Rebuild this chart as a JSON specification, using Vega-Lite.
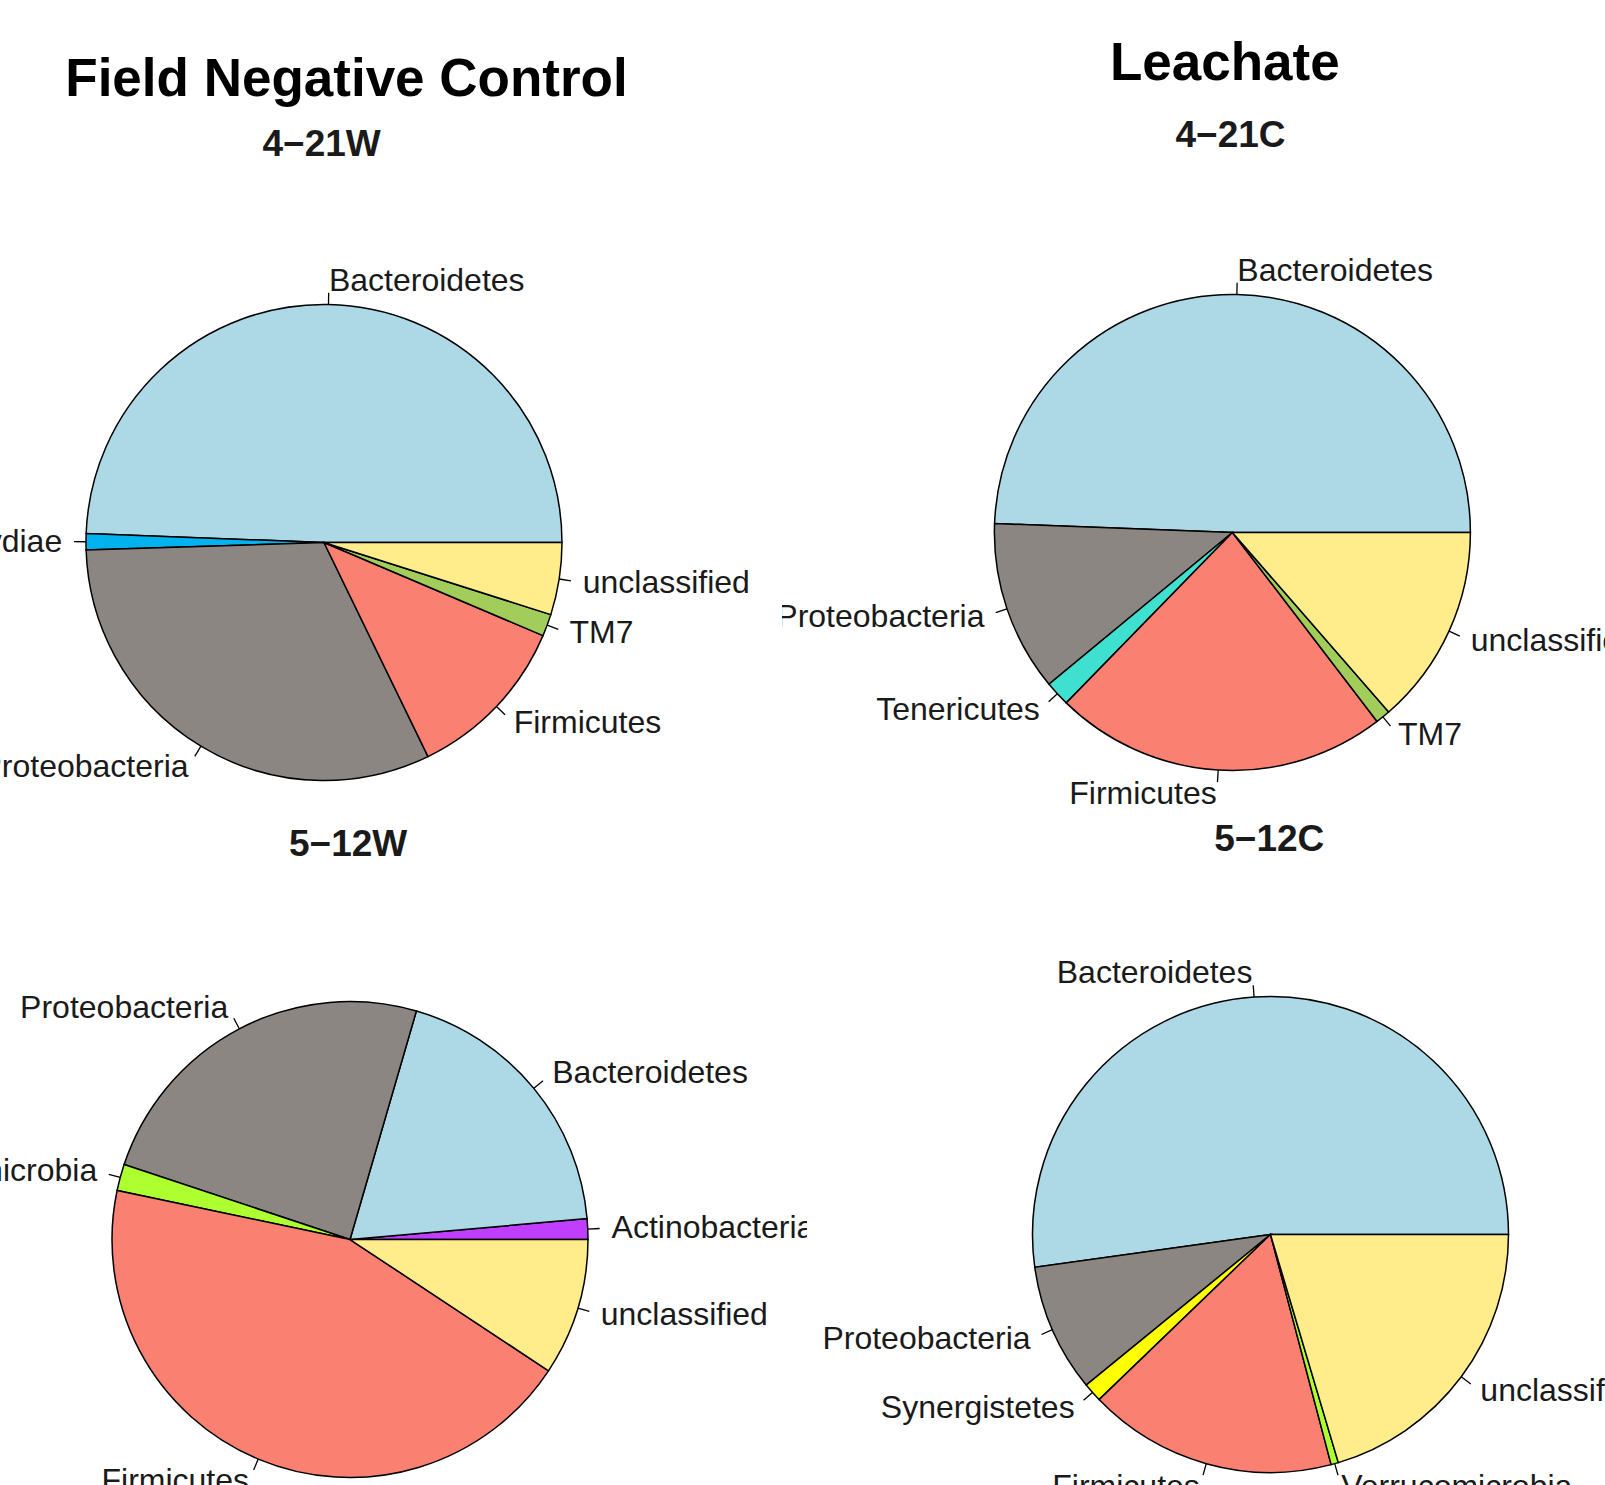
{
  "$schema": "https://vega.github.io/schema/vega-lite/v6.json",
  "padding": 0,
  "spacing": 0,
  "background": "white",
  "config": {
    "view": {"stroke": null},
    "text": {"font": "Liberation Sans"}
  },
  "datasets": {
    "abundance": [
      {"sample": "4−21W", "phylum": "Bacteroidetes", "share": 0.494},
      {"sample": "4−21W", "phylum": "Chlamydiae", "share": 0.011},
      {"sample": "4−21W", "phylum": "Proteobacteria", "share": 0.317},
      {"sample": "4−21W", "phylum": "Firmicutes", "share": 0.114},
      {"sample": "4−21W", "phylum": "TM7", "share": 0.015},
      {"sample": "4−21W", "phylum": "unclassified", "share": 0.049},
      {"sample": "4−21C", "phylum": "Bacteroidetes", "share": 0.494},
      {"sample": "4−21C", "phylum": "Proteobacteria", "share": 0.116},
      {"sample": "4−21C", "phylum": "Tenericutes", "share": 0.017},
      {"sample": "4−21C", "phylum": "Firmicutes", "share": 0.227},
      {"sample": "4−21C", "phylum": "TM7", "share": 0.010},
      {"sample": "4−21C", "phylum": "unclassified", "share": 0.136},
      {"sample": "5−12W", "phylum": "Actinobacteria", "share": 0.014},
      {"sample": "5−12W", "phylum": "Bacteroidetes", "share": 0.191},
      {"sample": "5−12W", "phylum": "Proteobacteria", "share": 0.244},
      {"sample": "5−12W", "phylum": "Verrucomicrobia", "share": 0.018},
      {"sample": "5−12W", "phylum": "Firmicutes", "share": 0.440},
      {"sample": "5−12W", "phylum": "unclassified", "share": 0.093},
      {"sample": "5−12C", "phylum": "Bacteroidetes", "share": 0.522},
      {"sample": "5−12C", "phylum": "Proteobacteria", "share": 0.087},
      {"sample": "5−12C", "phylum": "Synergistetes", "share": 0.013},
      {"sample": "5−12C", "phylum": "Firmicutes", "share": 0.169},
      {"sample": "5−12C", "phylum": "Verrucomicrobia", "share": 0.005},
      {"sample": "5−12C", "phylum": "unclassified", "share": 0.204}
    ]
  },
  "vconcat": [
    {
      "spacing": 0,
      "hconcat": [
        {
          "width": 782, "height": 815,
          "layer": [
            {
              "data": {"name": "abundance"},
              "transform": [
                {"filter": "datum.sample === '4−21W'"},
                {"window": [{"op": "sum", "field": "share", "as": "end"}], "frame": [null, 0]},
                {"calculate": "datum.end - datum.share", "as": "start"},
                {"calculate": "2 * PI * (datum.start + datum.share / 2)", "as": "mid"},
                {"calculate": "cos(datum.mid)", "as": "ux"},
                {"calculate": "sin(datum.mid)", "as": "uy"},
                {"calculate": "1.05 * datum.ux", "as": "tx"},
                {"calculate": "1.05 * datum.uy", "as": "ty"},
                {"calculate": "1.1 * datum.ux", "as": "lx"},
                {"calculate": "1.1 * datum.uy", "as": "ly"}
              ],
              "layer": [
                {
                  "mark": {"type": "arc", "radius": 238, "stroke": "black", "strokeWidth": 1.5, "clip": true},
                  "encoding": {
                    "theta": {"field": "start", "type": "quantitative", "stack": null, "scale": {"domain": [0, 1], "range": [1.5708, -4.7124]}},
                    "theta2": {"field": "end"},
                    "x": {"datum": 0, "type": "quantitative", "scale": {"domain": [-1.3613, 1.9244], "nice": false, "zero": false}, "axis": null},
                    "y": {"datum": 0, "type": "quantitative", "scale": {"domain": [-1.1450, 2.2794], "nice": false, "zero": false}, "axis": null},
                    "color": {"field": "phylum", "type": "nominal", "legend": null, "scale": {"domain": ["Bacteroidetes", "Proteobacteria", "Firmicutes", "unclassified", "TM7", "Chlamydiae", "Tenericutes", "Actinobacteria", "Verrucomicrobia", "Synergistetes"], "range": ["#ADD8E6", "#8B8682", "#FA8072", "#FFEC8B", "#A2CD5A", "#00B2EE", "#40E0D0", "#BF3EFF", "#ADFF2F", "#FFFF00"]}}
                  }
                },
                {
                  "mark": {"type": "rule", "stroke": "black", "strokeWidth": 1.3, "clip": true},
                  "encoding": {
                    "x": {"field": "ux", "type": "quantitative", "scale": {"domain": [-1.3613, 1.9244], "nice": false, "zero": false}, "axis": null},
                    "y": {"field": "uy", "type": "quantitative", "scale": {"domain": [-1.1450, 2.2794], "nice": false, "zero": false}, "axis": null},
                    "x2": {"field": "tx"},
                    "y2": {"field": "ty"}
                  }
                },
                {
                  "transform": [{"filter": "datum.ux >= 0"}],
                  "mark": {"type": "text", "align": "left", "baseline": "middle", "fontSize": 32, "color": "#1a1a1a", "clip": true},
                  "encoding": {
                    "x": {"field": "lx", "type": "quantitative", "scale": {"domain": [-1.3613, 1.9244], "nice": false, "zero": false}, "axis": null},
                    "y": {"field": "ly", "type": "quantitative", "scale": {"domain": [-1.1450, 2.2794], "nice": false, "zero": false}, "axis": null},
                    "text": {"field": "phylum"}
                  }
                },
                {
                  "transform": [{"filter": "datum.ux < 0"}],
                  "mark": {"type": "text", "align": "right", "baseline": "middle", "fontSize": 32, "color": "#1a1a1a", "clip": true},
                  "encoding": {
                    "x": {"field": "lx", "type": "quantitative", "scale": {"domain": [-1.3613, 1.9244], "nice": false, "zero": false}, "axis": null},
                    "y": {"field": "ly", "type": "quantitative", "scale": {"domain": [-1.1450, 2.2794], "nice": false, "zero": false}, "axis": null},
                    "text": {"field": "phylum"}
                  }
                }
              ]
            },
            {
              "data": {"values": [{"heading": "Field Negative Control"}]},
              "mark": {"type": "text", "align": "center", "baseline": "alphabetic", "fontSize": 53, "fontWeight": "bold", "color": "black"},
              "encoding": {
                "x": {"datum": 0.0945, "type": "quantitative", "scale": {"domain": [-1.3613, 1.9244], "nice": false, "zero": false}, "axis": null},
                "y": {"datum": 1.876, "type": "quantitative", "scale": {"domain": [-1.1450, 2.2794], "nice": false, "zero": false}, "axis": null},
                "text": {"field": "heading"}
              }
            },
            {
              "data": {"values": [{"heading": "4−21W"}]},
              "mark": {"type": "text", "align": "center", "baseline": "alphabetic", "fontSize": 37, "fontWeight": "bold", "color": "#1a1a1a"},
              "encoding": {
                "x": {"datum": -0.01, "type": "quantitative", "scale": {"domain": [-1.3613, 1.9244], "nice": false, "zero": false}, "axis": null},
                "y": {"datum": 1.6256, "type": "quantitative", "scale": {"domain": [-1.1450, 2.2794], "nice": false, "zero": false}, "axis": null},
                "text": {"field": "heading"}
              }
            }
          ]
        },
        {
          "width": 823, "height": 815,
          "layer": [
            {
              "data": {"name": "abundance"},
              "transform": [
                {"filter": "datum.sample === '4−21C'"},
                {"window": [{"op": "sum", "field": "share", "as": "end"}], "frame": [null, 0]},
                {"calculate": "datum.end - datum.share", "as": "start"},
                {"calculate": "2 * PI * (datum.start + datum.share / 2)", "as": "mid"},
                {"calculate": "cos(datum.mid)", "as": "ux"},
                {"calculate": "sin(datum.mid)", "as": "uy"},
                {"calculate": "1.05 * datum.ux", "as": "tx"},
                {"calculate": "1.05 * datum.uy", "as": "ty"},
                {"calculate": "1.1 * datum.ux", "as": "lx"},
                {"calculate": "1.1 * datum.uy", "as": "ly"}
              ],
              "layer": [
                {
                  "mark": {"type": "arc", "radius": 238, "stroke": "black", "strokeWidth": 1.5, "clip": true},
                  "encoding": {
                    "theta": {"field": "start", "type": "quantitative", "stack": null, "scale": {"domain": [0, 1], "range": [1.5708, -4.7124]}},
                    "theta2": {"field": "end"},
                    "x": {"datum": 0, "type": "quantitative", "scale": {"domain": [-1.8924, 1.5655], "nice": false, "zero": false}, "axis": null},
                    "y": {"datum": 0, "type": "quantitative", "scale": {"domain": [-1.1870, 2.2374], "nice": false, "zero": false}, "axis": null},
                    "color": {"field": "phylum", "type": "nominal", "legend": null}
                  }
                },
                {
                  "mark": {"type": "rule", "stroke": "black", "strokeWidth": 1.3, "clip": true},
                  "encoding": {
                    "x": {"field": "ux", "type": "quantitative", "scale": {"domain": [-1.8924, 1.5655], "nice": false, "zero": false}, "axis": null},
                    "y": {"field": "uy", "type": "quantitative", "scale": {"domain": [-1.1870, 2.2374], "nice": false, "zero": false}, "axis": null},
                    "x2": {"field": "tx"},
                    "y2": {"field": "ty"}
                  }
                },
                {
                  "transform": [{"filter": "datum.ux >= 0"}],
                  "mark": {"type": "text", "align": "left", "baseline": "middle", "fontSize": 32, "color": "#1a1a1a", "clip": true},
                  "encoding": {
                    "x": {"field": "lx", "type": "quantitative", "scale": {"domain": [-1.8924, 1.5655], "nice": false, "zero": false}, "axis": null},
                    "y": {"field": "ly", "type": "quantitative", "scale": {"domain": [-1.1870, 2.2374], "nice": false, "zero": false}, "axis": null},
                    "text": {"field": "phylum"}
                  }
                },
                {
                  "transform": [{"filter": "datum.ux < 0"}],
                  "mark": {"type": "text", "align": "right", "baseline": "middle", "fontSize": 32, "color": "#1a1a1a", "clip": true},
                  "encoding": {
                    "x": {"field": "lx", "type": "quantitative", "scale": {"domain": [-1.8924, 1.5655], "nice": false, "zero": false}, "axis": null},
                    "y": {"field": "ly", "type": "quantitative", "scale": {"domain": [-1.1870, 2.2374], "nice": false, "zero": false}, "axis": null},
                    "text": {"field": "phylum"}
                  }
                }
              ]
            },
            {
              "data": {"values": [{"heading": "Leachate"}]},
              "mark": {"type": "text", "align": "center", "baseline": "alphabetic", "fontSize": 53, "fontWeight": "bold", "color": "black"},
              "encoding": {
                "x": {"datum": -0.032, "type": "quantitative", "scale": {"domain": [-1.8924, 1.5655], "nice": false, "zero": false}, "axis": null},
                "y": {"datum": 1.903, "type": "quantitative", "scale": {"domain": [-1.1870, 2.2374], "nice": false, "zero": false}, "axis": null},
                "text": {"field": "heading"}
              }
            },
            {
              "data": {"values": [{"heading": "4−21C"}]},
              "mark": {"type": "text", "align": "center", "baseline": "alphabetic", "fontSize": 37, "fontWeight": "bold", "color": "#1a1a1a"},
              "encoding": {
                "x": {"datum": -0.008, "type": "quantitative", "scale": {"domain": [-1.8924, 1.5655], "nice": false, "zero": false}, "axis": null},
                "y": {"datum": 1.6185, "type": "quantitative", "scale": {"domain": [-1.1870, 2.2374], "nice": false, "zero": false}, "axis": null},
                "text": {"field": "heading"}
              }
            }
          ]
        }
      ]
    },
    {
      "spacing": 0,
      "hconcat": [
        {
          "width": 807, "height": 670,
          "layer": [
            {
              "data": {"name": "abundance"},
              "transform": [
                {"filter": "datum.sample === '5−12W'"},
                {"window": [{"op": "sum", "field": "share", "as": "end"}], "frame": [null, 0]},
                {"calculate": "datum.end - datum.share", "as": "start"},
                {"calculate": "2 * PI * (datum.start + datum.share / 2)", "as": "mid"},
                {"calculate": "cos(datum.mid)", "as": "ux"},
                {"calculate": "sin(datum.mid)", "as": "uy"},
                {"calculate": "1.05 * datum.ux", "as": "tx"},
                {"calculate": "1.05 * datum.uy", "as": "ty"},
                {"calculate": "1.1 * datum.ux", "as": "lx"},
                {"calculate": "1.1 * datum.uy", "as": "ly"}
              ],
              "layer": [
                {
                  "mark": {"type": "arc", "radius": 238, "stroke": "black", "strokeWidth": 1.5, "clip": true},
                  "encoding": {
                    "theta": {"field": "start", "type": "quantitative", "stack": null, "scale": {"domain": [0, 1], "range": [1.5708, -4.7124]}},
                    "theta2": {"field": "end"},
                    "x": {"datum": 0, "type": "quantitative", "scale": {"domain": [-1.4706, 1.9202], "nice": false, "zero": false}, "axis": null},
                    "y": {"datum": 0, "type": "quantitative", "scale": {"domain": [-1.0315, 1.7836], "nice": false, "zero": false}, "axis": null},
                    "color": {"field": "phylum", "type": "nominal", "legend": null}
                  }
                },
                {
                  "mark": {"type": "rule", "stroke": "black", "strokeWidth": 1.3, "clip": true},
                  "encoding": {
                    "x": {"field": "ux", "type": "quantitative", "scale": {"domain": [-1.4706, 1.9202], "nice": false, "zero": false}, "axis": null},
                    "y": {"field": "uy", "type": "quantitative", "scale": {"domain": [-1.0315, 1.7836], "nice": false, "zero": false}, "axis": null},
                    "x2": {"field": "tx"},
                    "y2": {"field": "ty"}
                  }
                },
                {
                  "transform": [{"filter": "datum.ux >= 0"}],
                  "mark": {"type": "text", "align": "left", "baseline": "middle", "fontSize": 32, "color": "#1a1a1a", "clip": true},
                  "encoding": {
                    "x": {"field": "lx", "type": "quantitative", "scale": {"domain": [-1.4706, 1.9202], "nice": false, "zero": false}, "axis": null},
                    "y": {"field": "ly", "type": "quantitative", "scale": {"domain": [-1.0315, 1.7836], "nice": false, "zero": false}, "axis": null},
                    "text": {"field": "phylum"}
                  }
                },
                {
                  "transform": [{"filter": "datum.ux < 0"}],
                  "mark": {"type": "text", "align": "right", "baseline": "middle", "fontSize": 32, "color": "#1a1a1a", "clip": true},
                  "encoding": {
                    "x": {"field": "lx", "type": "quantitative", "scale": {"domain": [-1.4706, 1.9202], "nice": false, "zero": false}, "axis": null},
                    "y": {"field": "ly", "type": "quantitative", "scale": {"domain": [-1.0315, 1.7836], "nice": false, "zero": false}, "axis": null},
                    "text": {"field": "phylum"}
                  }
                }
              ]
            },
            {
              "data": {"values": [{"heading": "5−12W"}]},
              "mark": {"type": "text", "align": "center", "baseline": "alphabetic", "fontSize": 37, "fontWeight": "bold", "color": "#1a1a1a"},
              "encoding": {
                "x": {"datum": -0.008, "type": "quantitative", "scale": {"domain": [-1.4706, 1.9202], "nice": false, "zero": false}, "axis": null},
                "y": {"datum": 1.6126, "type": "quantitative", "scale": {"domain": [-1.0315, 1.7836], "nice": false, "zero": false}, "axis": null},
                "text": {"field": "heading"}
              }
            }
          ]
        },
        {
          "width": 798, "height": 670,
          "layer": [
            {
              "data": {"name": "abundance"},
              "transform": [
                {"filter": "datum.sample === '5−12C'"},
                {"window": [{"op": "sum", "field": "share", "as": "end"}], "frame": [null, 0]},
                {"calculate": "datum.end - datum.share", "as": "start"},
                {"calculate": "2 * PI * (datum.start + datum.share / 2)", "as": "mid"},
                {"calculate": "cos(datum.mid)", "as": "ux"},
                {"calculate": "sin(datum.mid)", "as": "uy"},
                {"calculate": "1.05 * datum.ux", "as": "tx"},
                {"calculate": "1.05 * datum.uy", "as": "ty"},
                {"calculate": "1.1 * datum.ux", "as": "lx"},
                {"calculate": "1.1 * datum.uy", "as": "ly"}
              ],
              "layer": [
                {
                  "mark": {"type": "arc", "radius": 238, "stroke": "black", "strokeWidth": 1.5, "clip": true},
                  "encoding": {
                    "theta": {"field": "start", "type": "quantitative", "stack": null, "scale": {"domain": [0, 1], "range": [1.5708, -4.7124]}},
                    "theta2": {"field": "end"},
                    "x": {"datum": 0, "type": "quantitative", "scale": {"domain": [-1.9475, 1.4055], "nice": false, "zero": false}, "axis": null},
                    "y": {"datum": 0, "type": "quantitative", "scale": {"domain": [-1.0525, 1.7626], "nice": false, "zero": false}, "axis": null},
                    "color": {"field": "phylum", "type": "nominal", "legend": null}
                  }
                },
                {
                  "mark": {"type": "rule", "stroke": "black", "strokeWidth": 1.3, "clip": true},
                  "encoding": {
                    "x": {"field": "ux", "type": "quantitative", "scale": {"domain": [-1.9475, 1.4055], "nice": false, "zero": false}, "axis": null},
                    "y": {"field": "uy", "type": "quantitative", "scale": {"domain": [-1.0525, 1.7626], "nice": false, "zero": false}, "axis": null},
                    "x2": {"field": "tx"},
                    "y2": {"field": "ty"}
                  }
                },
                {
                  "transform": [{"filter": "datum.ux >= 0"}],
                  "mark": {"type": "text", "align": "left", "baseline": "middle", "fontSize": 32, "color": "#1a1a1a", "clip": true},
                  "encoding": {
                    "x": {"field": "lx", "type": "quantitative", "scale": {"domain": [-1.9475, 1.4055], "nice": false, "zero": false}, "axis": null},
                    "y": {"field": "ly", "type": "quantitative", "scale": {"domain": [-1.0525, 1.7626], "nice": false, "zero": false}, "axis": null},
                    "text": {"field": "phylum"}
                  }
                },
                {
                  "transform": [{"filter": "datum.ux < 0"}],
                  "mark": {"type": "text", "align": "right", "baseline": "middle", "fontSize": 32, "color": "#1a1a1a", "clip": true},
                  "encoding": {
                    "x": {"field": "lx", "type": "quantitative", "scale": {"domain": [-1.9475, 1.4055], "nice": false, "zero": false}, "axis": null},
                    "y": {"field": "ly", "type": "quantitative", "scale": {"domain": [-1.0525, 1.7626], "nice": false, "zero": false}, "axis": null},
                    "text": {"field": "phylum"}
                  }
                }
              ]
            },
            {
              "data": {"values": [{"heading": "5−12C"}]},
              "mark": {"type": "text", "align": "center", "baseline": "alphabetic", "fontSize": 37, "fontWeight": "bold", "color": "#1a1a1a"},
              "encoding": {
                "x": {"datum": -0.005, "type": "quantitative", "scale": {"domain": [-1.9475, 1.4055], "nice": false, "zero": false}, "axis": null},
                "y": {"datum": 1.613, "type": "quantitative", "scale": {"domain": [-1.0525, 1.7626], "nice": false, "zero": false}, "axis": null},
                "text": {"field": "heading"}
              }
            }
          ]
        }
      ]
    }
  ]
}
